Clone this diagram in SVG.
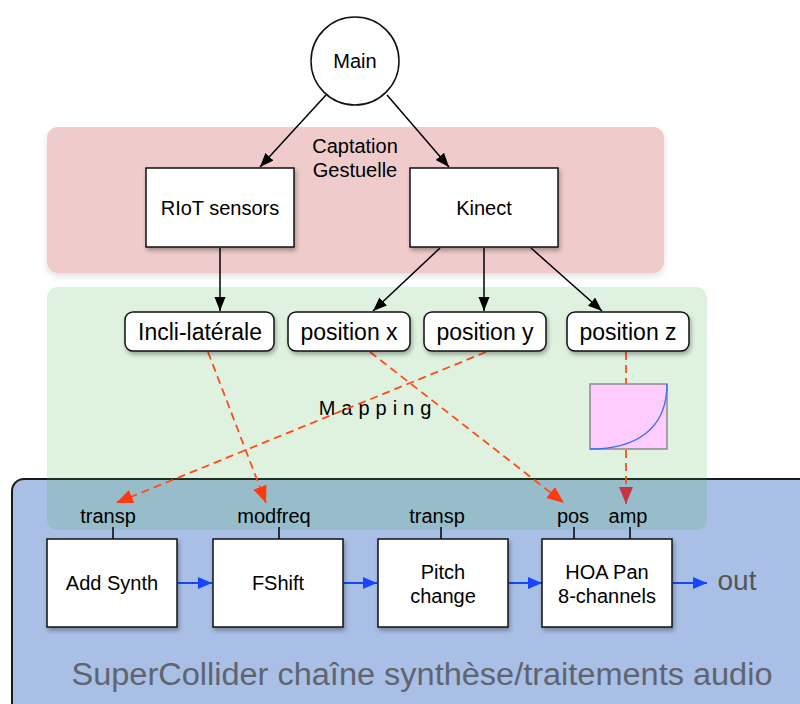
<svg xmlns="http://www.w3.org/2000/svg" width="800" height="704" viewBox="0 0 800 704">
<defs>
<filter id="sh" x="-20%" y="-20%" width="140%" height="150%">
<feDropShadow dx="1.5" dy="3" stdDeviation="2" flood-color="#000" flood-opacity="0.3"/>
</filter>
<filter id="gsh" x="-10%" y="-10%" width="120%" height="130%">
<feDropShadow dx="0" dy="3" stdDeviation="3" flood-color="#000" flood-opacity="0.12"/>
</filter>
<marker id="ab" markerUnits="userSpaceOnUse" markerWidth="15" markerHeight="12" refX="14" refY="5.5" orient="auto">
<path d="M0,0 L14,5.5 L0,11 z" fill="#000"/>
</marker>
<marker id="ar" markerUnits="userSpaceOnUse" markerWidth="18" markerHeight="16" refX="17" refY="7" orient="auto">
<path d="M0,0 L17,7 L0,14 z" fill="#ff3a10"/>
</marker>
<marker id="ard" markerUnits="userSpaceOnUse" markerWidth="18" markerHeight="16" refX="17" refY="7" orient="auto">
<path d="M0,0 L17,7 L0,14 z" fill="#c9323f"/>
</marker>
<marker id="abl" markerUnits="userSpaceOnUse" markerWidth="15" markerHeight="14" refX="14" refY="6" orient="auto">
<path d="M0,0 L14,6 L0,12 z" fill="#1646ff"/>
</marker>
<style>
text{font-family:"Liberation Sans",Arial,sans-serif;fill:#000;text-anchor:middle}
.box{fill:#fff;stroke:#111;stroke-width:1.5}
.rbox{fill:#fff;stroke:#111;stroke-width:1.5}
.blk{stroke:#000;stroke-width:1.5;fill:none;marker-end:url(#ab)}
.red{stroke:#ff4a1c;stroke-width:1.8;stroke-dasharray:8 5;fill:none}
.blu{stroke:#1646ff;stroke-width:2;fill:none;marker-end:url(#abl)}
.tick{stroke:#000;stroke-width:1.5}
.t20{font-size:20px}
.t23{font-size:23px}
.lbl{font-size:20px}
</style>
</defs>
<g id="group-supercollider">
<rect x="12" y="479" width="820" height="250" rx="12" fill="#a9bfe6" stroke="#1a1a1a" stroke-width="2"/>
<text x="422" y="685" font-size="31" textLength="701" lengthAdjust="spacingAndGlyphs" style="fill:#5f6470">SuperCollider chaîne synthèse/traitements audio</text>
</g>
<g id="group-captation">
<rect x="47" y="127" width="617" height="146" rx="11" fill="#efcbcb" filter="url(#gsh)"/>
<text class="t20" x="355" y="153">Captation</text>
<text class="t20" x="355" y="177">Gestuelle</text>
</g>
<g id="group-mapping">
<rect x="47" y="287" width="660" height="243" rx="11" fill="rgb(61,176,61)" fill-opacity="0.165"/>
<text x="378" y="415" font-size="20" letter-spacing="6">Mapping</text>
</g>
<g id="connectors">
<line class="blk" x1="326" y1="95" x2="260" y2="167"/>
<line class="blk" x1="387" y1="95" x2="449" y2="167"/>
<line class="blk" x1="220" y1="248" x2="220" y2="311"/>
<line class="blk" x1="440" y1="248" x2="373" y2="311"/>
<line class="blk" x1="484" y1="248" x2="484" y2="311"/>
<line class="blk" x1="531" y1="248" x2="602" y2="311"/>
<line class="red" x1="208" y1="352" x2="266" y2="503" marker-end="url(#ar)"/>
<line class="red" x1="486" y1="352" x2="116" y2="503" marker-end="url(#ar)"/>
<line class="red" x1="370" y1="352" x2="564" y2="503" marker-end="url(#ar)"/>
<line class="red" x1="626" y1="352" x2="626" y2="384"/>
<line class="red" x1="626" y1="450" x2="626" y2="504" marker-end="url(#ard)"/>
<line class="blu" x1="178" y1="583" x2="212" y2="583"/>
<line class="blu" x1="344" y1="583" x2="377" y2="583"/>
<line class="blu" x1="509" y1="583" x2="542" y2="583"/>
<line class="blu" x1="673" y1="583" x2="707" y2="583"/>
<line class="tick" x1="113" y1="527" x2="113" y2="539"/>
<line class="tick" x1="279" y1="527" x2="279" y2="539"/>
<line class="tick" x1="441" y1="527" x2="441" y2="539"/>
<line class="tick" x1="574" y1="527" x2="574" y2="539"/>
<line class="tick" x1="630" y1="527" x2="630" y2="539"/>
</g>
<g id="node-main">
<ellipse cx="355" cy="61" rx="44" ry="44" fill="#fff" stroke="#111" stroke-width="1.5"/>
<text class="t20" x="355" y="68">Main</text>
</g>
<g id="node-riot">
<rect class="box" x="146" y="168" width="148" height="79" filter="url(#sh)"/>
<text class="t20" x="220" y="215">RIoT sensors</text>
</g>
<g id="node-kinect">
<rect class="box" x="410" y="168" width="148" height="79" filter="url(#sh)"/>
<text class="t20" x="484" y="215">Kinect</text>
</g>
<g id="node-incli">
<rect class="rbox" x="125" y="312" width="149" height="39" rx="8" filter="url(#sh)"/>
<text class="t23" x="200" y="340">Incli-latérale</text>
</g>
<g id="node-posx">
<rect class="rbox" x="288" y="312" width="122" height="39" rx="8" filter="url(#sh)"/>
<text class="t23" x="349" y="340">position x</text>
</g>
<g id="node-posy">
<rect class="rbox" x="424" y="312" width="122" height="39" rx="8" filter="url(#sh)"/>
<text class="t23" x="485" y="340">position y</text>
</g>
<g id="node-posz">
<rect class="rbox" x="567" y="312" width="122" height="39" rx="8" filter="url(#sh)"/>
<text class="t23" x="628" y="340">position z</text>
</g>
<g id="node-curve">
<rect x="590" y="384" width="77" height="65" fill="#ffccff" stroke="#8a8a8a" stroke-width="1.5"/>
<path d="M590,449 C635,449 667,430 667,384" fill="none" stroke="#3b6cf5" stroke-width="1.3"/>
</g>
<g id="labels">
<text class="lbl" x="108" y="523">transp</text>
<text class="lbl" x="274" y="523">modfreq</text>
<text class="lbl" x="437" y="523">transp</text>
<text class="lbl" x="573" y="523">pos</text>
<text class="lbl" x="628" y="523">amp</text>
</g>
<g id="node-addsynth">
<rect class="box" x="47" y="539" width="130" height="88" filter="url(#sh)"/>
<text class="t20" x="112" y="590">Add Synth</text>
</g>
<g id="node-fshift">
<rect class="box" x="213" y="539" width="130" height="88" filter="url(#sh)"/>
<text class="t20" x="278" y="590">FShift</text>
</g>
<g id="node-pitch">
<rect class="box" x="378" y="539" width="130" height="88" filter="url(#sh)"/>
<text class="t20" x="443" y="579">Pitch</text>
<text class="t20" x="443" y="603">change</text>
</g>
<g id="node-hoa">
<rect class="box" x="542" y="539" width="130" height="88" filter="url(#sh)"/>
<text class="t20" x="607" y="579">HOA Pan</text>
<text class="t20" x="607" y="603">8-channels</text>
</g>
<g id="out">
<text x="737" y="590" font-size="28" style="fill:#555">out</text>
</g>
</svg>
